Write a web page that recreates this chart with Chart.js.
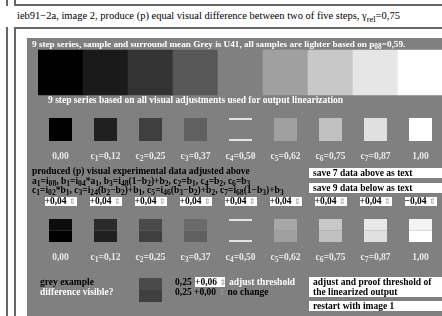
<!DOCTYPE html>
<html><head><meta charset="utf-8">
<script src="https://cdn.jsdelivr.net/npm/chart.js@4/dist/chart.umd.min.js"></script>
<style>
html,body{margin:0;padding:0;width:442px;height:316px;overflow:hidden;background:#fff;font-family:"Liberation Serif","Times New Roman",serif;}
.t{position:absolute;white-space:nowrap;line-height:10px;height:10px;}
.b{font-weight:bold;}
.ln{position:absolute;background:#666;}
#panel{position:absolute;left:27px;top:38px;right:0;bottom:0;background:#808080;}
#wrap{position:absolute;left:38px;top:0;width:405px;height:316px;}
#over{position:absolute;left:38px;top:0;width:405px;height:316px;}
.box{position:absolute;background:#fff;color:#000;font-weight:bold;white-space:nowrap;font-size:9.5px;line-height:10px;}
sub{font-size:80%;vertical-align:baseline;position:relative;top:0.3em;line-height:0;}
.sp{font-family:"DejaVu Sans";font-weight:normal;color:#999;font-size:8px;}
</style></head><body>
<div class="ln" style="left:6px;top:0;width:2px;height:6px"></div>
<div class="ln" style="left:14px;top:0;width:2px;height:6px"></div>
<div class="ln" style="left:14px;top:4px;right:0;height:2px"></div>
<div class="ln" style="left:6px;top:27px;width:2px;bottom:0"></div>
<div class="ln" style="left:14px;top:27px;width:2px;bottom:0"></div>
<div class="ln" style="left:14px;top:27px;right:0;height:2px"></div>
<div class="t" style="left:17px;top:11px;font-size:10.5px;">ieb91−2a, image 2, produce (p) equal visual difference between two of five steps, γ<sub>rel</sub>=0,75</div>
<div id="panel"></div>
<div id="wrap"><canvas id="c" width="405" height="316"></canvas></div>
<div id="over"></div>
<div class="t b" style="left:32px;top:39px;font-size:9.2px;color:#fff;">9 step series, sample and surround mean Grey is U41, all samples are lighter based on p<sub>08</sub>=0,59.</div>
<div class="t b" style="left:48px;top:95px;font-size:9.5px;color:#fff;">9 step series based on all visual adjustments used for output linearization</div>
<div class="t b" style="left:32px;top:166px;font-size:9.5px;color:#000;">produced (p) visual experimental data adjusted above</div>
<div class="t b" style="left:32px;top:176px;font-size:9.5px;color:#000;">a<sub>1</sub>=i<sub>08</sub>, b<sub>1</sub>=i<sub>04</sub>*a<sub>1</sub>, b<sub>3</sub>=i<sub>48</sub>(1−b<sub>2</sub>)+b<sub>2</sub>, c<sub>2</sub>=b<sub>1</sub>, c<sub>4</sub>=b<sub>2</sub>, c<sub>6</sub>=b<sub>3</sub></div>
<div class="t b" style="left:32px;top:185px;font-size:9.5px;color:#000;">c<sub>1</sub>=i<sub>02</sub>*b<sub>1</sub>, c<sub>3</sub>=i<sub>24</sub>(b<sub>2</sub>−b<sub>2</sub>)+b<sub>1</sub>, c<sub>5</sub>=i<sub>46</sub>(b<sub>3</sub>−b<sub>2</sub>)+b<sub>2</sub>, c<sub>7</sub>=i<sub>68</sub>(1−b<sub>3</sub>)+b<sub>3</sub></div>
<div class="box" style="left:309px;top:168px;width:133px;height:10px;"><span style="margin-left:4px">save 7 data above as text</span></div>
<div class="box" style="left:309px;top:183px;width:133px;height:10px;"><span style="margin-left:4px">save 9 data below as text</span></div>
<div class="t b" style="left:40px;top:277px;font-size:9.5px;color:#000;">grey example</div>
<div class="t b" style="left:40px;top:287px;font-size:9.5px;color:#fff;">difference visible?</div>
<div class="t b" style="left:175px;top:277px;font-size:9.5px;color:#000;">0,25</div>
<div class="box" style="left:195px;top:277px;width:30px;height:10px;">+0,06 <span class="sp">⇕</span></div>
<div class="t b" style="left:229px;top:277px;font-size:9.5px;color:#fff;">adjust threshold</div>
<div class="t b" style="left:175px;top:287px;font-size:9.5px;color:#000;">0,25 +0,00 <span class="sp">⇕</span> no change</div>
<div class="box" style="left:309px;top:277px;width:133px;height:20px;"><div style="margin-left:4px">adjust and proof threshold of</div><div style="margin-left:4px">the linearized output</div></div>
<div class="box" style="left:309px;top:301px;width:133px;height:10px;"><span style="margin-left:4px">restart with image 1</span></div>
<script>
// ---- data ----
const stepNames = ['', 'c1', 'c2', 'c3', 'c4', 'c5', 'c6', 'c7', ''];
const stepValues = ['0,00', '0,12', '0,25', '0,37', '0,50', '0,62', '0,75', '0,87', '1,00'];
const bigGrey = [0, 26, 51, 87, 128, 160, 200, 230, 255];
const smallGrey = [0, 32, 64, 96, 128, 160, 192, 224, 255];
const pairTopGrey = [12, 42, 74, 106, 128, 168, 200, 232, 244];
const pairBottomGrey = [0, 32, 64, 96, 128, 160, 192, 224, 255];
const adjustments = ['+0,04', '+0,04', '+0,04', '+0,04', '+0,04', '+0,04', '+0,04', '+0,04', '−0,04'];
const exampleStep = 2;
const exampleTopGrey = 74;
const exampleBottomGrey = 64;
const surroundIndex = 4;

// ---- layout (not data) ----
const ROW = {big: [50, 95], small: [118, 141], pair: [219, 230.5, 242], example: [278, 290, 302]};
const g = v => `rgb(${v},${v},${v})`;
const lineCol = '#e4e4e4';
const labels = stepValues.map((v, i) => stepNames[i] ? stepNames[i] + '=' + v : v);

function rowDs(range, greys, bw, lines) {
  return {
    data: greys.map(() => range),
    backgroundColor: greys.map(g),
    borderColor: lineCol,
    borderWidth: ctx => (ctx.dataIndex === surroundIndex && lines) ? lines : 0,
    borderSkipped: false,
    barPercentage: bw, categoryPercentage: 1, grouped: false
  };
}
const exData = (range) => stepNames.map((_, i) => i === exampleStep ? range : null);

const chart = new Chart(document.getElementById('c'), {
  type: 'bar',
  data: {
    labels: labels,
    datasets: [
      rowDs(ROW.big, bigGrey, 1, null),
      rowDs(ROW.small, smallGrey, 23/45, {top: 2, bottom: 2, left: 0, right: 0}),
      rowDs([ROW.pair[0], ROW.pair[1]], pairTopGrey, 23/45, {top: 2, bottom: 0, left: 0, right: 0}),
      rowDs([ROW.pair[1], ROW.pair[2]], pairBottomGrey, 23/45, {top: 0, bottom: 2, left: 0, right: 0}),
      {data: exData([ROW.example[0], ROW.example[1]]), backgroundColor: g(exampleTopGrey), borderWidth: 0, barPercentage: 23/45, categoryPercentage: 1, grouped: false},
      {data: exData([ROW.example[1], ROW.example[2]]), backgroundColor: g(exampleBottomGrey), borderWidth: 0, barPercentage: 23/45, categoryPercentage: 1, grouped: false}
    ]
  },
  options: {
    responsive: false, animation: false,
    layout: {padding: 0},
    plugins: {legend: {display: false}, tooltip: {enabled: false}},
    scales: {
      x: {display: false, offset: true},
      y: {display: false, min: 0, max: 316, reverse: true}
    }
  }
});

// labels and spinners positioned from the category scale
const over = document.getElementById('over');
const xs = chart.scales.x;
function lab(i, top) {
  const d = document.createElement('div');
  d.className = 't b';
  d.style.cssText = `top:${top}px;font-size:9.5px;color:#e8e8e8;left:${xs.getPixelForValue(i) - 40}px;width:80px;text-align:center;`;
  d.innerHTML = stepNames[i] ? `${stepNames[i][0]}<sub>${stepNames[i].slice(1)}</sub>=${stepValues[i]}` : stepValues[i];
  over.appendChild(d);
}
stepValues.forEach((_, i) => {
  lab(i, 151);
  lab(i, 252);
  const s = document.createElement('div');
  s.className = 'box';
  s.style.cssText += `left:${xs.getPixelForValue(i) - 16}px;top:197px;width:32px;height:9px;line-height:9px;`;
  s.innerHTML = `${adjustments[i]} <span class="sp">⇕</span>`;
  over.appendChild(s);
});
</script>
</body></html>
